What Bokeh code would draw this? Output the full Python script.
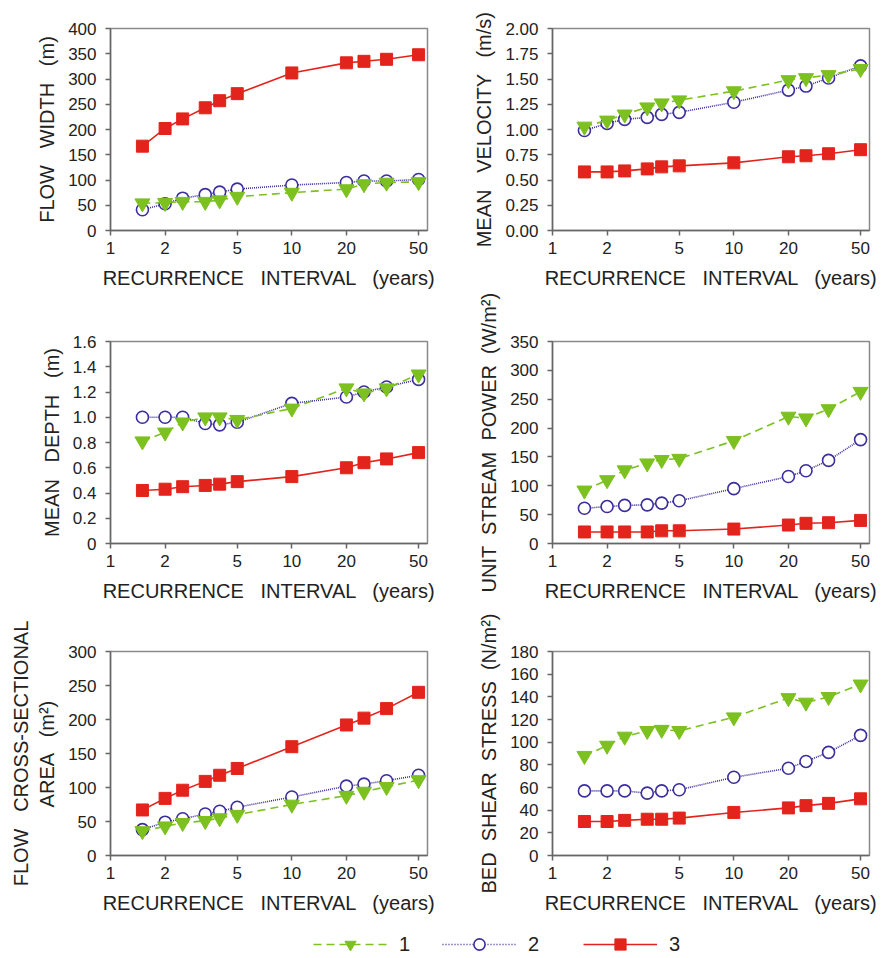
from bokeh.plotting import figure
from bokeh.models import (Range1d, FixedTicker, NumeralTickFormatter, CustomJSTickFormatter,
                          Legend, LegendItem, ColumnDataSource)
from bokeh.layouts import column, row
from bokeh.embed import file_html
from bokeh.resources import INLINE

# ---------------- data ----------------
recurrence = [1.5, 2, 2.5, 3.33, 4, 5, 10, 20, 25, 33.3, 50]
x_ticks = [1, 2, 5, 10, 20, 50]

width_1 = [54, 55, 57, 57, 60, 67, 75, 82, 92, 95, 96]
width_2 = [41, 53, 64, 71, 76, 82, 90, 95, 98, 98, 101]
width_3 = [167, 202, 221, 243, 257, 271, 312, 332, 335, 339, 348]
width_ticks = [0, 50, 100, 150, 200, 250, 300, 350, 400]

vel_1 = [1.03, 1.09, 1.15, 1.22, 1.26, 1.29, 1.38, 1.49, 1.51, 1.54, 1.60]
vel_2 = [0.99, 1.06, 1.10, 1.12, 1.15, 1.17, 1.27, 1.39, 1.43, 1.51, 1.63]
vel_3 = [0.58, 0.58, 0.59, 0.61, 0.63, 0.64, 0.67, 0.73, 0.74, 0.76, 0.80]
vel_ticks = [0, 0.25, 0.5, 0.75, 1.0, 1.25, 1.5, 1.75, 2.0]

depth_1 = [0.81, 0.88, 0.96, 1.00, 1.00, 0.98, 1.07, 1.23, 1.19, 1.23, 1.34]
depth_2 = [1.00, 1.00, 1.00, 0.95, 0.94, 0.96, 1.11, 1.16, 1.20, 1.24, 1.30]
depth_3 = [0.42, 0.43, 0.45, 0.46, 0.47, 0.49, 0.53, 0.60, 0.64, 0.67, 0.72]
depth_ticks = [0, 0.2, 0.4, 0.6, 0.8, 1.0, 1.2, 1.4, 1.6]

power_1 = [92, 110, 127, 139, 145, 147, 178, 220, 217, 233, 263]
power_2 = [61, 64, 66, 67, 70, 74, 95, 116, 126, 144, 180]
power_3 = [20, 20, 20, 20, 22, 22, 25, 32, 35, 36, 40]
power_ticks = [0, 50, 100, 150, 200, 250, 300, 350]

area_1 = [36, 43, 48, 51, 55, 60, 75, 88, 94, 101, 111]
area_2 = [38, 49, 54, 61, 65, 71, 86, 102, 105, 110, 118]
area_3 = [67, 84, 96, 109, 118, 128, 160, 192, 202, 216, 240]
area_ticks = [0, 50, 100, 150, 200, 250, 300]

shear_1 = [88, 97, 105, 110, 111, 110, 122, 139, 135, 140, 151]
shear_2 = [57, 57, 57, 55, 57, 58, 69, 77, 83, 91, 106]
shear_3 = [30, 30, 31, 32, 32, 33, 38, 42, 44, 46, 50]
shear_ticks = [0, 20, 40, 60, 80, 100, 120, 140, 160, 180]

series_names = ["1", "2", "3"]

# ---------------- style ----------------
FONT = "Liberation Sans"
GREEN = "#7cc11f"
BLUE = "#3b2e9e"
RED = "#e3241c"
AXIS = "#666666"
TEXT = "#222222"
SP3 = " \u00a0 "
SP2 = " \u00a0"

X_LABEL = SP3.join(["RECURRENCE", "INTERVAL", "(years)"])


def make_panel(ylabel, y_max, yticks, yfmt, s1, s2, s3, col, top, fh, bottom):
    if col == 0:
        bl, br = 110, 22
    else:
        bl, br = 103, 13
    p = figure(x_axis_type="log", x_range=Range1d(1, 56), y_range=Range1d(0, y_max),
               frame_width=317, frame_height=fh,
               min_border_left=bl, min_border_right=br, min_border_top=top, min_border_bottom=bottom,
               toolbar_location=None, output_backend="svg", background_fill_color="white",
               border_fill_color="white")
    p.outline_line_color = "#8a8a8a"
    p.outline_line_width = 1.5
    p.xgrid.grid_line_color = None
    p.ygrid.grid_line_color = None

    p.xaxis.ticker = FixedTicker(ticks=x_ticks)
    p.xaxis.formatter = NumeralTickFormatter(format="0")
    p.yaxis.ticker = FixedTicker(ticks=yticks)
    p.yaxis.formatter = yfmt
    for ax in (p.xaxis[0], p.yaxis[0]):
        ax.axis_line_color = AXIS
        ax.axis_line_width = 1.5
        ax.major_tick_line_color = AXIS
        ax.major_tick_line_width = 1.5
        ax.major_tick_in = 0
        ax.major_tick_out = 5
        ax.minor_tick_line_color = None
        ax.major_label_text_font = FONT
        ax.major_label_text_font_size = "17px"
        ax.major_label_text_color = TEXT
        ax.axis_label_text_font = FONT
        ax.axis_label_text_font_size = "20px"
        ax.axis_label_text_font_style = "normal"
        ax.axis_label_text_color = TEXT
    p.xaxis.major_label_standoff = 6
    p.xaxis.axis_label_standoff = 10
    p.yaxis.major_label_standoff = 9
    p.yaxis.axis_label_standoff = 7
    p.xaxis.axis_label = X_LABEL
    p.yaxis.axis_label = ylabel

    src = ColumnDataSource(dict(x=recurrence, s1=s1, s2=s2, s3=s3))
    p.line("x", "s2", source=src, line_color=BLUE, line_width=1.6, line_dash="1 1")
    p.scatter("x", "s2", source=src, marker="circle", size=12, fill_color="white",
              line_color=BLUE, line_width=1.6)
    p.line("x", "s1", source=src, line_color=GREEN, line_width=1.6, line_dash="8 5")
    p.scatter("x", "s1", source=src, marker="inverted_triangle", size=15, fill_color=GREEN,
              line_color=GREEN)
    p.line("x", "s3", source=src, line_color=RED, line_width=1.6)
    p.scatter("x", "s3", source=src, marker="square", size=12, fill_color=RED, line_color=RED)
    return p


fmt0 = NumeralTickFormatter(format="0")
fmt2 = NumeralTickFormatter(format="0.00")
fmt1 = CustomJSTickFormatter(code="return tick == 0 ? '0' : tick.toFixed(1);")

# row 1: 0 -> 290, row 2: 290 -> 610, row 3: 610 -> 918, legend: 918 -> 958
p1 = make_panel(SP3.join(["FLOW", "WIDTH", "(m)"]), 400, width_ticks, fmt0,
                width_1, width_2, width_3, 0, 28, 202, 60)
p2 = make_panel(SP3.join(["MEAN", "VELOCITY", "(m/s)"]), 2.0, vel_ticks, fmt2,
                vel_1, vel_2, vel_3, 1, 28, 202, 60)
p3 = make_panel(SP3.join(["MEAN", "DEPTH", "(m)"]), 1.6, depth_ticks, fmt1,
                depth_1, depth_2, depth_3, 0, 50, 202, 68)
p4 = make_panel(SP2.join(["UNIT", "STREAM", "POWER", "(W/m\u00b2)"]), 350, power_ticks, fmt0,
                power_1, power_2, power_3, 1, 50, 202, 68)
p5 = make_panel(SP3.join(["FLOW", "CROSS-SECTIONAL"]) + "\n" + SP3.join(["AREA", "(m\u00b2)"]),
                300, area_ticks, fmt0, area_1, area_2, area_3, 0, 40, 204, 64)
p6 = make_panel(SP2.join(["BED", "SHEAR", "STRESS", "(N/m\u00b2)"]), 180, shear_ticks, fmt0,
                shear_1, shear_2, shear_3, 1, 40, 204, 64)

# ---------------- legend ----------------
# the legend figure's ranges exclude all data, so only the legend swatches show
leg = figure(width=882, height=40, x_range=Range1d(0, 1), y_range=Range1d(0, 1),
             x_axis_type=None, y_axis_type=None, toolbar_location=None, output_backend="svg",
             min_border=0, outline_line_color=None)
leg.xgrid.grid_line_color = None
leg.ygrid.grid_line_color = None
lsrc = ColumnDataSource(dict(x=recurrence, s1=width_1, s2=width_2, s3=width_3))
g_l = leg.line("x", "s1", source=lsrc, line_color=GREEN, line_width=1.6, line_dash="8 5")
g_s = leg.scatter("x", "s1", source=lsrc, marker="inverted_triangle", fill_color=GREEN,
                  line_color=GREEN)
b_l = leg.line("x", "s2", source=lsrc, line_color=BLUE, line_width=1.4, line_dash="1 2")
b_s = leg.scatter("x", "s2", source=lsrc, marker="circle", fill_color="white",
                  line_color=BLUE, line_width=1.6)
r_l = leg.line("x", "s3", source=lsrc, line_color=RED, line_width=1.6)
r_s = leg.scatter("x", "s3", source=lsrc, marker="square", fill_color=RED, line_color=RED)

for name, rends, xpos in zip(series_names, [[g_l, g_s], [b_l, b_s], [r_l, r_s]], [313, 442, 583]):
    lg = Legend(items=[LegendItem(label=name, renderers=rends)], location=(xpos, 1),
                orientation="horizontal", padding=0, margin=0, border_line_color=None,
                background_fill_alpha=0, glyph_width=74, glyph_height=28, label_standoff=12,
                label_text_font=FONT, label_text_font_size="20px", label_text_color=TEXT,
                label_height=28)
    leg.add_layout(lg, "center")

layout = column(row(p1, p2), row(p3, p4), row(p5, p6), leg)

open("out.html", "w").write(file_html(layout, INLINE))
